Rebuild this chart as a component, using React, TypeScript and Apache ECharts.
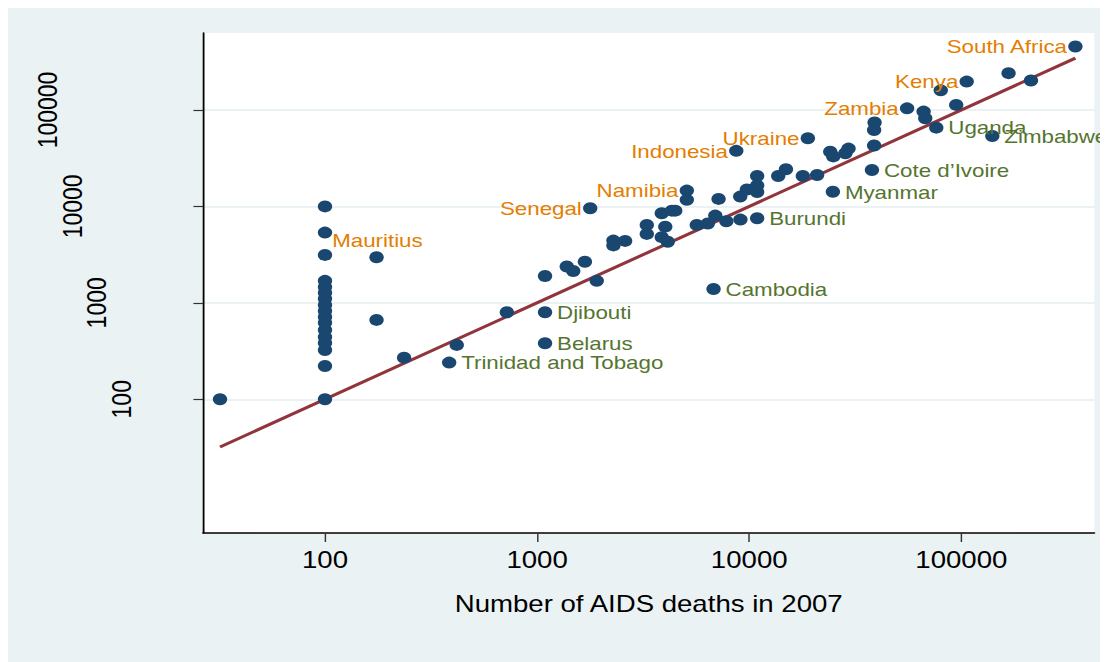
import React, { useEffect, useRef } from "react";
import * as echarts from "echarts";

// ---- data ----
const pointNames: string[] = [
  "", "", "", "", "", "", "", "", "", "", "", "", "", "", "", "", "Mauritius", "",
  "", "", "", "", "Trinidad and Tobago", "", "", "Djibouti", "Belarus", "Senegal",
  "", "", "", "", "", "", "", "", "", "", "", "", "", "", "", "Namibia", "", "", "",
  "", "", "", "", "", "", "Indonesia", "", "", "", "Burundi", "Cambodia", "", "", "",
  "Ukraine", "", "", "", "Myanmar", "", "", "Cote d\u2019Ivoire", "", "", "", "Zambia",
  "", "", "Uganda", "", "", "Kenya", "Zimbabwe", "", "", "South Africa",
];
const aidsDeaths: number[] = [
  32, 100, 100, 100, 100, 100, 100, 100, 100, 100, 100, 100, 100, 100, 100, 100, 100, 100,
  175, 175, 236, 418, 385, 720, 1090, 1090, 1090, 1780,
  1380, 1480, 1680, 1910, 2290, 2290, 2600, 3290, 3290, 3870, 4320, 4480, 4020, 3870, 4130, 5080, 5080, 5660, 6380,
  6920, 7170, 7800, 9070, 9090, 9750, 8690, 10900, 10900, 10900, 10900, 6790, 13700, 14900, 17900,
  18900, 20900, 24100, 24900, 24800, 28400, 29400, 37900, 39000, 38800, 38800, 55500,
  66400, 67600, 76200, 80000, 94600, 106000, 140000, 167000, 213000, 345000,
];
const yValues: number[] = [
  100, 100, 221, 324, 384, 443, 524, 620, 715, 824, 950, 1100, 1270, 1460, 1690, 3140, 5350, 10000,
  2970, 665, 270, 366, 240, 798, 1900, 798, 381, 9570,
  2380, 2140, 2670, 1690, 4420, 3940, 4390, 6430, 5190, 8490, 9040, 9040, 6170, 4800, 4300, 14600, 11700, 6430, 6650,
  8030, 11970, 7020, 12650, 7300, 15000, 37700, 20700, 16500, 14100, 7550, 1390, 20700, 24300, 20700,
  50900, 21200, 37000, 33000, 14200, 35600, 39800, 23900, 74300, 62000, 42900, 104000,
  96200, 82200, 65600, 160000, 113000, 197000, 53800, 241000, 202000, 455000,
];
const highLabelled: string[] = ["Mauritius", "Senegal", "Namibia", "Indonesia", "Ukraine", "Zambia", "Kenya", "South Africa"];
const lowLabelled: string[] = ["Trinidad and Tobago", "Djibouti", "Belarus", "Cambodia", "Burundi", "Myanmar", "Cote d\u2019Ivoire", "Uganda", "Zimbabwe"];
const xTicks: number[] = [100, 1000, 10000, 100000];
const yTicks: number[] = [100, 1000, 10000, 100000];
const xAxisTitle = "Number of AIDS deaths in 2007";
// fitted line in log10 space: log y = intercept + slope * log x
const fitSlope = 1;
const fitIntercept = 0;

const STRETCH = 1.2;
const FULL_W = 1100;
const FULL_H = 654;
const FONT = "'Liberation Sans', Arial, Helvetica, sans-serif";
const ORANGE = "#e37e00";
const GREEN = "#55752f";
const NAVY = "#1a476f";
const MAROON = "#90353b";
const PANEL = "#eaf2f3";

export default function App() {
  const ref = useRef<HTMLDivElement>(null);
  useEffect(() => {
    if (!ref.current) return;
    const chart = echarts.init(ref.current, null, { renderer: "svg" });

    const scatterData = aidsDeaths.map((x, i) => {
      const name = pointNames[i];
      const item: any = { name, value: [x, yValues[i]] };
      if (highLabelled.includes(name)) {
        const isEdge = name === "Mauritius";
        item.label = isEdge
          ? { show: true, position: [12, 14], align: "left", verticalAlign: "middle", color: ORANGE }
          : { show: true, position: "left", distance: 1, color: ORANGE };
      } else if (lowLabelled.includes(name)) {
        item.label = { show: true, position: "right", distance: 4, color: GREEN };
      }
      return item;
    });

    const xMinData = Math.min(...aidsDeaths);
    const xMaxData = Math.max(...aidsDeaths);
    const fitData = [xMinData, xMaxData].map((x) => [
      x,
      Math.pow(10, fitIntercept + fitSlope * Math.log10(x)),
    ]);

    chart.setOption({
      animation: false,
      backgroundColor: PANEL,
      grid: {
        left: 162.5,
        right: FULL_W / STRETCH - 905,
        top: 25,
        bottom: 129,
        show: true,
        backgroundColor: "#ffffff",
        borderWidth: 0,
      },
      xAxis: {
        type: "log",
        min: 26.6,
        max: 424000,
        name: xAxisTitle,
        nameLocation: "middle",
        nameGap: 59,
        nameTextStyle: { color: "#000", fontSize: 23, fontFamily: FONT },
        axisLine: { show: true, onZero: false, lineStyle: { color: "#000", width: 1.5 } },
        axisTick: { show: true, length: 9, customValues: xTicks, lineStyle: { color: "#333", width: 1.2 } },
        axisLabel: {
          customValues: xTicks,
          formatter: (v: number) => String(Math.round(v)),
          color: "#000",
          fontSize: 23,
          fontFamily: FONT,
          margin: 15,
        },
        splitLine: { show: false },
        minorTick: { show: false },
        minorSplitLine: { show: false },
      },
      yAxis: {
        type: "log",
        min: 4.1,
        max: 629000,
        axisLine: { show: true, onZero: false, lineStyle: { color: "#000", width: 1.5 } },
        axisTick: { show: true, length: 8, customValues: yTicks, lineStyle: { color: "#333", width: 1.2 } },
        axisLabel: { show: false, customValues: yTicks },
        splitLine: { show: true, lineStyle: { color: PANEL, width: 2 } },
        minorTick: { show: false },
        minorSplitLine: { show: false },
      },
      series: [
        {
          type: "line",
          data: fitData,
          showSymbol: false,
          symbol: "none",
          lineStyle: { color: MAROON, width: 3 },
          z: 2,
          silent: true,
        },
        {
          type: "scatter",
          data: scatterData,
          symbol: "circle",
          symbolSize: 12,
          itemStyle: { color: NAVY, opacity: 1 },
          label: {
            show: false,
            formatter: "{b}",
            fontSize: 18.6,
            fontFamily: FONT,
          },
          labelLayout: { hideOverlap: false },
          z: 3,
        },
      ],
    });

    // rotated, staggered y tick labels positioned via the axis scale
    const yLabelGraphics = yTicks.map((v) => {
      const py = chart.convertToPixel({ yAxisIndex: 0 } as any, v) as number;
      const px = 94 - 20.3 * (Math.log10(v) - 2);
      return {
        type: "text",
        x: px,
        y: py,
        rotation: Math.PI / 2,
        style: {
          text: String(v),
          fill: "#000",
          fontSize: 23,
          fontFamily: FONT,
          align: "center",
          verticalAlign: "middle",
        },
        silent: true,
      };
    });
    chart.setOption({ graphic: yLabelGraphics });

    return () => chart.dispose();
  }, []);

  return (
    <div style={{ width: FULL_W, height: FULL_H, overflow: "hidden" }}>
      <div
        ref={ref}
        style={{
          width: FULL_W / STRETCH,
          height: FULL_H,
          transform: `scaleX(${STRETCH})`,
          transformOrigin: "0 0",
        }}
      />
    </div>
  );
}
